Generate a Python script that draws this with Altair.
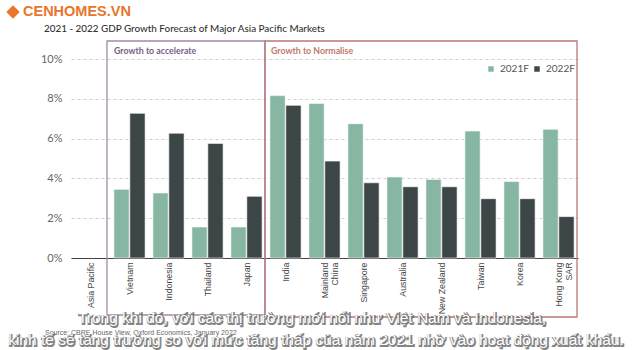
import altair as alt
import pandas as pd

categories = ["Asia Pacific", "Vietnam", "Indonesia", "Thailand", "Japan", "India",
              "Mainland China", "Singapore", "Australia", "New Zealand", "Taiwan",
              "Korea", "Hong Kong SAR"]
series = ["2021F", "2022F"]
v2021 = [None, 3.45, 3.27, 1.56, 1.56, 8.16, 7.77, 6.75, 4.07, 3.95, 6.38, 3.85, 6.47]
v2022 = [None, 7.27, 6.27, 5.76, 3.10, 7.67, 4.87, 3.78, 3.58, 3.58, 2.98, 2.98, 2.08]
y_ticks = [0, 2, 4, 6, 8, 10]

title_text = "2021  - 2022 GDP Growth Forecast of Major Asia Pacific Markets"
group1 = "Growth to accelerate"
group2 = "Growth to Normalise"
source_text = "Source: CBRE House View, Oxford Economics, January 2022"
logo_text = "CENHOMES.VN"
sub1 = "Trong khi đó, với các thị trường mới nổi như Việt Nam và Indonesia,"
sub2 = "kinh tế sẽ tăng trưởng so với mức tăng thấp của năm 2021 nhờ vào hoạt động xuất khẩu."

rows = []
for c, a, b in zip(categories, v2021, v2022):
    rows.append({"category": c, "series": series[0], "value": a})
    rows.append({"category": c, "series": series[1], "value": b})
df = pd.DataFrame(rows)

one = alt.Data(values=[{}])

label_expr = ("datum.label == 'Mainland China' ? ['Mainland', 'China'] : "
              "datum.label == 'Hong Kong SAR' ? ['Hong Kong', 'SAR'] : datum.label")

bars = alt.Chart(df).mark_bar(stroke="white", strokeWidth=0.6).encode(
    x=alt.X("category:N", sort=categories,
            scale=alt.Scale(domain=categories, paddingInner=0.2, paddingOuter=0.1),
            axis=alt.Axis(title=None, labelAngle=270, labelPadding=4, ticks=False,
                          labelFont="Liberation Sans", labelFontSize=8.8,
                          labelColor="#444", domainColor="#444", domainWidth=1.2,
                          labelOverlap=False, labelExpr=label_expr, labelLineHeight=10.5)),
    xOffset=alt.XOffset("series:N", scale=alt.Scale(domain=series, paddingInner=0.04)),
    y=alt.Y("value:Q", scale=alt.Scale(domain=[0, 10], nice=False),
            axis=alt.Axis(title=None, values=y_ticks, labelExpr="datum.value + '%'",
                          domain=False, ticks=False, labelPadding=9,
                          labelFont="Lato", labelFontSize=11, labelColor="#666",
                          gridDash=[3, 3], gridColor="#cfcfcf", gridWidth=1)),
    color=alt.Color("series:N", scale=alt.Scale(domain=series, range=["#87b7a3", "#3c4647"]),
                    legend=alt.Legend(title=None, orient="none", legendX=415, legendY=5,
                                      direction="horizontal", symbolType="square",
                                      symbolSize=30, labelFontSize=10, labelFont="Lato",
                                      labelColor="#555", columnPadding=3, symbolStrokeWidth=0)),
)

box1 = alt.Chart(one).mark_rect(fill=None, stroke="#a489a7", strokeWidth=1.3).encode(
    x=alt.value(36), x2=alt.value(194), y=alt.value(-18), y2=alt.value(256))
box2 = alt.Chart(one).mark_rect(fill=None, stroke="#b97877", strokeWidth=1.3).encode(
    x=alt.value(194), x2=alt.value(506), y=alt.value(-18), y2=alt.value(258))

g1 = alt.Chart(one).mark_text(text=group1, align="left", baseline="middle", font="Lato",
                              fontSize=8.8, fontWeight="bold", color="#7b5c86").encode(
    x=alt.value(43), y=alt.value(-8))
g2 = alt.Chart(one).mark_text(text=group2, align="left", baseline="middle", font="Lato",
                              fontSize=8.8, fontWeight="bold", color="#c4786a").encode(
    x=alt.value(200), y=alt.value(-8))

title = alt.Chart(one).mark_text(text=title_text, align="left", baseline="middle", font="Lato",
                                 fontSize=9.9, fontWeight=500, color="#333").encode(
    x=alt.value(-27), y=alt.value(-30))

logo_mark = alt.Chart(one).mark_point(shape="diamond", filled=True, color="#e8762c",
                                       size=180, opacity=1).encode(
    x=alt.value(-58), y=alt.value(-47))
logo = alt.Chart(one).mark_text(text=logo_text, align="left", baseline="middle",
                                font="Liberation Sans", fontSize=14.5, fontWeight="bold",
                                color="#e8762c").encode(x=alt.value(-48), y=alt.value(-47))

source = alt.Chart(one).mark_text(text=source_text, align="left", baseline="middle",
                                  font="Liberation Sans", fontSize=7, color="#666").encode(
    x=alt.value(-26), y=alt.value(274))

def subtitle(txt, cx, cy):
    shadow = alt.Chart(one).mark_text(text=txt, align="center", baseline="middle",
                                      font="Liberation Sans", fontSize=15.5, color="#555",
                                      stroke="#666", strokeWidth=2.0, opacity=0.8,
                                      dx=0.8, dy=0.8).encode(x=alt.value(cx), y=alt.value(cy))
    front = alt.Chart(one).mark_text(text=txt, align="center", baseline="middle",
                                     font="Liberation Sans", fontSize=15.5,
                                     color="white").encode(x=alt.value(cx), y=alt.value(cy))
    return [shadow, front]

layers = [box1, box2, bars, g1, g2, title, logo_mark, logo, source]
layers += subtitle(sub1, 241, 259) + subtitle(sub2, 245, 281)

chart = alt.layer(*layers).properties(
    width=507, height=199,
    autosize=alt.AutoSizeParams(type="none"),
    padding={"left": 71, "top": 59, "right": 55, "bottom": 92},
    background="white",
).configure_view(stroke=None)

chart.save("out.html", embed_options={"renderer": "svg", "actions": False})
